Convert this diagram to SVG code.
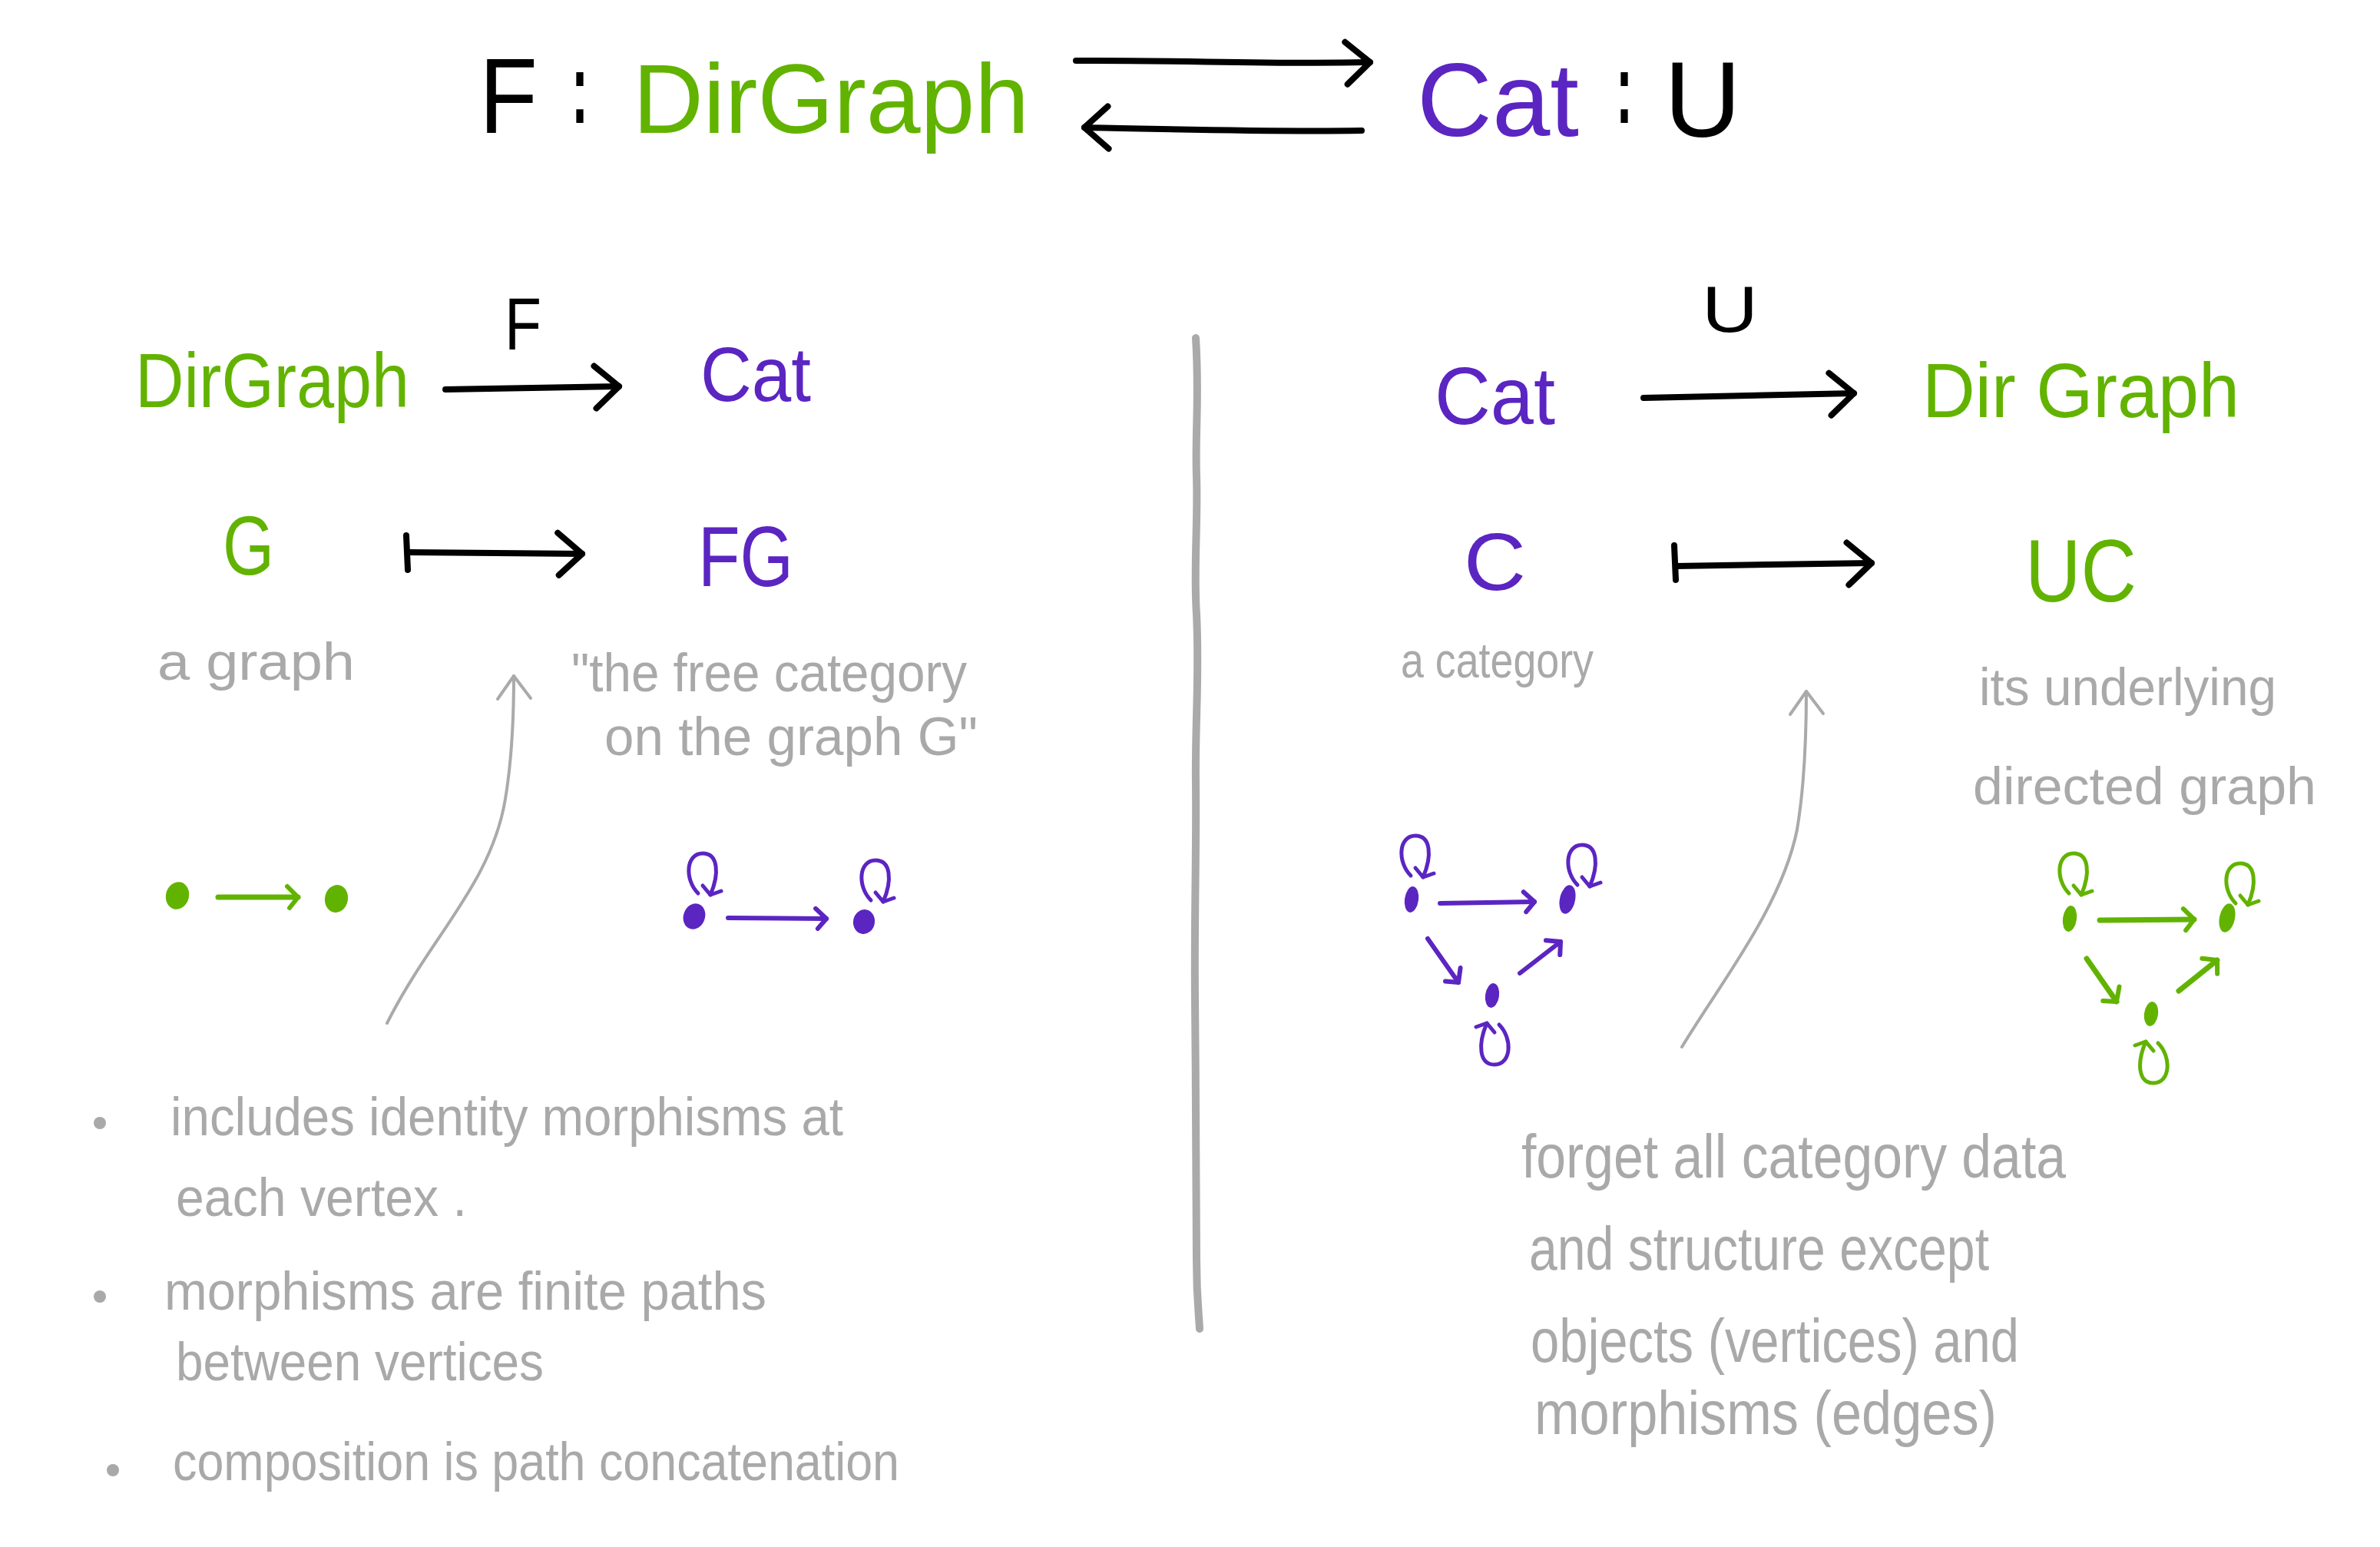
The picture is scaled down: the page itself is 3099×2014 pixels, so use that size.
<svg xmlns="http://www.w3.org/2000/svg" width="3099" height="2014" viewBox="0 0 3099 2014">
<style>
text{font-family:"Liberation Sans","DejaVu Sans",sans-serif}
.blk{fill:#000}
.grn{fill:#62b300}
.pur{fill:#5b25c2}
.note{fill:#a9a9a9}
.ar{fill:none;stroke:#000;stroke-width:8;stroke-linecap:round;stroke-linejoin:round}
.gr{fill:none;stroke:#aaaaaa;stroke-width:4;stroke-linecap:round}
.pa{fill:none;stroke:#5b25c2;stroke-width:6;stroke-linecap:round}
.ga{fill:none;stroke:#62b300;stroke-width:7;stroke-linecap:round}
</style>
<defs>
<marker id="mkBlack" markerUnits="userSpaceOnUse" viewBox="-40 -36 50 72" markerWidth="50" markerHeight="72" refX="0" refY="0" orient="auto" overflow="visible">
<path d="M-32,-27 L0,0 L-30,28" fill="none" stroke="#000" stroke-width="8" stroke-linecap="round" stroke-linejoin="round"/>
</marker>
<marker id="mkGray" markerUnits="userSpaceOnUse" viewBox="-30 -26 40 52" markerWidth="40" markerHeight="52" refX="0" refY="0" orient="auto" overflow="visible">
<path d="M-30,-21 L0,0 L-29,22" fill="none" stroke="#aaaaaa" stroke-width="4" stroke-linecap="round" stroke-linejoin="round"/>
</marker>
<marker id="mkPur" markerUnits="userSpaceOnUse" viewBox="-20 -16 26 32" markerWidth="26" markerHeight="32" refX="0" refY="0" orient="auto" overflow="visible">
<path d="M-14,-13 L0,0 L-11,13" fill="none" stroke="#5b25c2" stroke-width="6" stroke-linecap="round" stroke-linejoin="round"/>
</marker>
<marker id="mkGrn" markerUnits="userSpaceOnUse" viewBox="-20 -16 26 32" markerWidth="26" markerHeight="32" refX="0" refY="0" orient="auto" overflow="visible">
<path d="M-14,-14 L0,0 L-11,14" fill="none" stroke="#62b300" stroke-width="6" stroke-linecap="round" stroke-linejoin="round"/>
</marker>
<g id="loop">
<path d="M-6,0 C-24,-18 -22,-52 0,-52 C20,-52 22,-26 10,2" fill="none" stroke="currentColor" stroke-width="5" stroke-linecap="round"/>
<path d="M0,-10 L10,2 L24,-3" fill="none" stroke="currentColor" stroke-width="5" stroke-linecap="round" stroke-linejoin="round"/>
</g>
</defs>
<rect x="0" y="0" width="3099" height="2014" fill="#ffffff"/>

<g id="title">
<text class="blk" x="624" y="173" font-size="140" textLength="76" lengthAdjust="spacingAndGlyphs">F</text>
<text class="blk" x="744" y="160" font-size="130" font-weight="bold" textLength="22" lengthAdjust="spacingAndGlyphs">:</text>
<text class="grn" x="824" y="173" font-size="128" textLength="516" lengthAdjust="spacingAndGlyphs">DirGraph</text>
<text class="pur" x="1845" y="177" font-size="135" textLength="211" lengthAdjust="spacingAndGlyphs">Cat</text>
<text class="blk" x="2104" y="160" font-size="130" font-weight="bold" textLength="22" lengthAdjust="spacingAndGlyphs">:</text>
<text class="blk" x="2167" y="178" font-size="140" textLength="100" lengthAdjust="spacingAndGlyphs">U</text>
</g>

<g id="left-F-label"><text class="blk" x="657" y="455" font-size="96" textLength="48" lengthAdjust="spacingAndGlyphs">F</text></g>
<g id="left-DirGraph"><text class="grn" x="176" y="530" font-size="100" textLength="357" lengthAdjust="spacingAndGlyphs">DirGraph</text></g>
<g id="left-Cat"><text class="pur" x="912" y="522" font-size="100" textLength="144" lengthAdjust="spacingAndGlyphs">Cat</text></g>
<g id="left-G"><text class="grn" x="290" y="748" font-size="110" textLength="67" lengthAdjust="spacingAndGlyphs">G</text></g>
<g id="left-FG"><text class="pur" x="909" y="763" font-size="112" textLength="124" lengthAdjust="spacingAndGlyphs">FG</text></g>
<g id="note-a-graph"><text class="note" x="205" y="885" font-size="68" textLength="257" lengthAdjust="spacingAndGlyphs">a graph</text></g>
<g id="note-free-category">
<text class="note" x="744" y="900" font-size="70" textLength="515" lengthAdjust="spacingAndGlyphs">"the free category</text>
<text class="note" x="787" y="983" font-size="70" textLength="486" lengthAdjust="spacingAndGlyphs">on the graph G"</text>
</g>

<g id="graph-G">
<ellipse cx="231" cy="1166" rx="15" ry="18" transform="rotate(15 231 1166)" class="grn"/>
<ellipse cx="438" cy="1170" rx="15" ry="18" transform="rotate(10 438 1170)" class="grn"/>
</g>
<g id="graph-FG">
<ellipse cx="904" cy="1193" rx="14" ry="17" transform="rotate(20 904 1193)" class="pur"/>
<ellipse cx="1125" cy="1200" rx="14" ry="16" transform="rotate(10 1125 1200)" class="pur"/>
<use href="#loop" transform="translate(915 1163)" style="color:#5b25c2"/>
<use href="#loop" transform="translate(1140 1172)" style="color:#5b25c2"/>
</g>

<g id="bullets-left">
<circle cx="130" cy="1462" r="8" class="note"/>
<circle cx="130" cy="1688" r="8" class="note"/>
<circle cx="147" cy="1914" r="8" class="note"/>
<text class="note" x="222" y="1478" font-size="70" textLength="876" lengthAdjust="spacingAndGlyphs">includes identity morphisms at</text>
<text class="note" x="229" y="1583" font-size="70" textLength="379" lengthAdjust="spacingAndGlyphs">each vertex .</text>
<text class="note" x="214" y="1705" font-size="70" textLength="784" lengthAdjust="spacingAndGlyphs">morphisms  are finite paths</text>
<text class="note" x="229" y="1797" font-size="70" textLength="479" lengthAdjust="spacingAndGlyphs">between vertices</text>
<text class="note" x="225" y="1927" font-size="70" textLength="946" lengthAdjust="spacingAndGlyphs">composition is path concatenation</text>
</g>

<g id="right-U-label"><text class="blk" x="2216" y="432" font-size="86" textLength="73" lengthAdjust="spacingAndGlyphs">U</text></g>
<g id="right-Cat"><text class="pur" x="1868" y="552" font-size="105" textLength="157" lengthAdjust="spacingAndGlyphs">Cat</text></g>
<g id="right-DirGraph"><text class="grn" x="2503" y="543" font-size="100" textLength="413" lengthAdjust="spacingAndGlyphs">Dir Graph</text></g>
<g id="right-C"><text class="pur" x="1906" y="768" font-size="106" textLength="81" lengthAdjust="spacingAndGlyphs">C</text></g>
<g id="right-UC"><text class="grn" x="2637" y="783" font-size="115" textLength="145" lengthAdjust="spacingAndGlyphs">UC</text></g>
<g id="note-a-category"><text class="note" x="1824" y="882" font-size="64" textLength="251" lengthAdjust="spacingAndGlyphs">a category</text></g>
<g id="note-underlying">
<text class="note" x="2577" y="918" font-size="68" textLength="387" lengthAdjust="spacingAndGlyphs">its underlying</text>
<text class="note" x="2569" y="1047" font-size="68" textLength="447" lengthAdjust="spacingAndGlyphs">directed graph</text>
</g>

<g id="graph-C">
<ellipse cx="1838" cy="1171" rx="9" ry="17" transform="rotate(8 1838 1171)" class="pur"/>
<ellipse cx="2041" cy="1171" rx="10" ry="19" transform="rotate(12 2041 1171)" class="pur"/>
<ellipse cx="1943" cy="1296" rx="9" ry="16" transform="rotate(8 1943 1296)" class="pur"/>
<use href="#loop" transform="translate(1843 1140)" style="color:#5b25c2"/>
<use href="#loop" transform="translate(2060 1152)" style="color:#5b25c2"/>
<use href="#loop" transform="translate(1946 1334) rotate(180)" style="color:#5b25c2"/>
</g>
<g id="graph-UC">
<ellipse cx="2695" cy="1196" rx="9" ry="17" transform="rotate(8 2695 1196)" class="grn"/>
<ellipse cx="2900" cy="1195" rx="10" ry="19" transform="rotate(12 2900 1195)" class="grn"/>
<ellipse cx="2801" cy="1320" rx="9" ry="16" transform="rotate(8 2801 1320)" class="grn"/>
<use href="#loop" transform="translate(2700 1163)" style="color:#62b300"/>
<use href="#loop" transform="translate(2917 1176)" style="color:#62b300"/>
<use href="#loop" transform="translate(2804 1358) rotate(180)" style="color:#62b300"/>
</g>

<g id="note-forget">
<text class="note" x="1981" y="1533" font-size="80" textLength="709" lengthAdjust="spacingAndGlyphs">forget all category data</text>
<text class="note" x="1991" y="1653" font-size="80" textLength="599" lengthAdjust="spacingAndGlyphs">and structure except</text>
<text class="note" x="1993" y="1773" font-size="80" textLength="636" lengthAdjust="spacingAndGlyphs">objects (vertices) and</text>
<text class="note" x="1998" y="1867" font-size="80" textLength="602" lengthAdjust="spacingAndGlyphs">morphisms (edges)</text>
</g>

<g id="divider">
<path d="M1557,440 C1562,520 1556,560 1558,620 C1560,680 1554,740 1558,800 C1562,880 1556,940 1557,1020 C1558,1100 1555,1200 1556,1300 C1557,1420 1558,1560 1558,1640 C1558,1690 1561,1710 1562,1730" fill="none" stroke="#aaaaaa" stroke-width="10" stroke-linecap="round"/>
</g>

<g id="connectors">
<path class="ar" d="M1401,79 C1530,78 1660,84 1784,81" marker-end="url(#mkBlack)"/>
<path class="ar" d="M1773,170 C1650,172 1530,168 1412,166" marker-end="url(#mkBlack)"/>
<path class="ar" d="M580,507 L806,503" marker-end="url(#mkBlack)"/>
<path class="ar" d="M529,697 L531,742"/>
<path class="ar" d="M531,719 L758,721" marker-end="url(#mkBlack)"/>
<path class="ar" d="M2140,518 L2414,512" marker-end="url(#mkBlack)"/>
<path class="ar" d="M2180,710 L2182,755"/>
<path class="ar" d="M2182,737 L2437,733" marker-end="url(#mkBlack)"/>
<path class="gr" d="M504,1332 C560,1220 640,1150 658,1040 C668,980 669,920 669,880" marker-end="url(#mkGray)"/>
<path class="gr" d="M2190,1363 C2240,1280 2320,1180 2340,1080 C2350,1020 2352,950 2352,900" marker-end="url(#mkGray)"/>
<path class="ga" d="M284,1168 L388,1168" marker-end="url(#mkGrn)"/>
<path class="pa" d="M948,1195 L1076,1196" marker-end="url(#mkPur)"/>
<path class="pa" d="M1875,1176 L1998,1174" marker-end="url(#mkPur)"/>
<path class="pa" d="M1859,1222 L1899,1279" marker-end="url(#mkPur)"/>
<path class="pa" d="M1979,1267 L2032,1226" marker-end="url(#mkPur)"/>
<path class="ga" d="M2734,1198 L2857,1197" marker-end="url(#mkGrn)"/>
<path class="ga" d="M2717,1248 L2756,1304" marker-end="url(#mkGrn)"/>
<path class="ga" d="M2837,1290 L2887,1250" marker-end="url(#mkGrn)"/>
</g>
</svg>
